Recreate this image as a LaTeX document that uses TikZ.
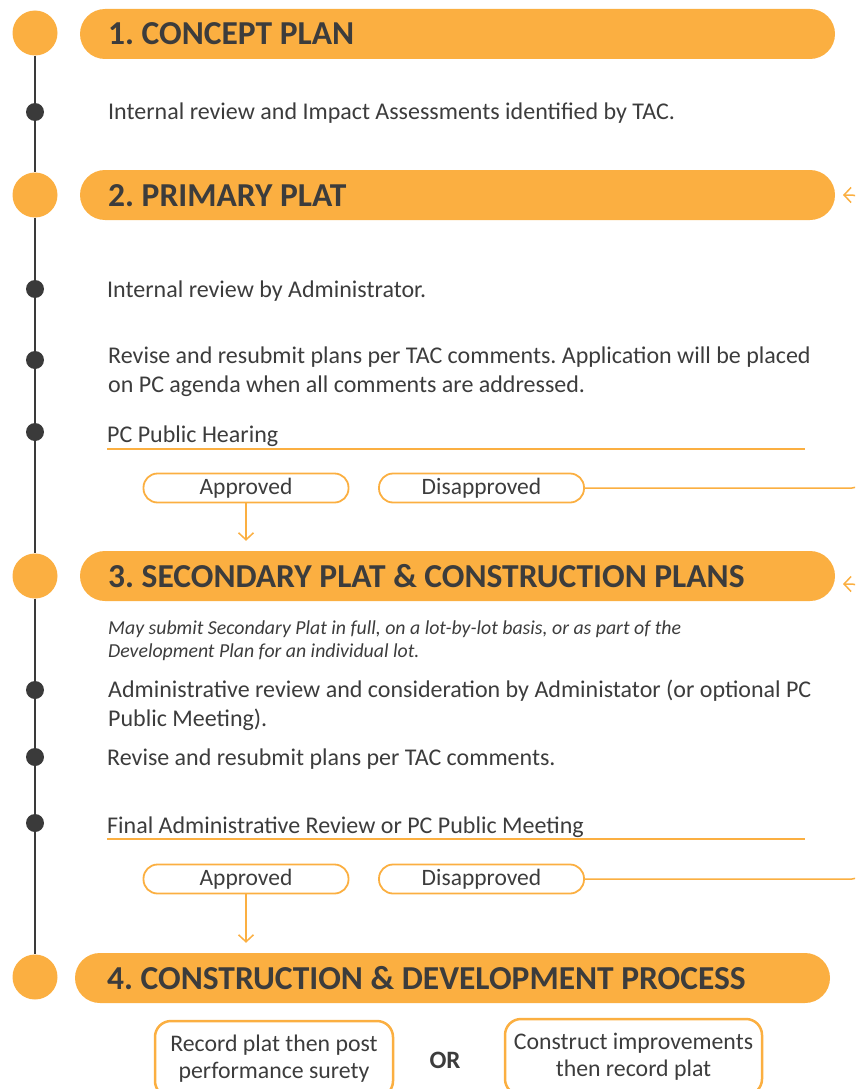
\documentclass[tikz,border=0pt]{standalone}
\usepackage{fontspec}
\setmainfont{Carlito}
\usetikzlibrary{arrows.meta,calc}
\definecolor{amber}{HTML}{FBAF41}
\definecolor{ink}{HTML}{3C3C3C}
\definecolor{rail}{HTML}{3A3A3A}
\frenchspacing
\begin{document}
\begin{tikzpicture}[x=1pt,y=-1pt,
  stage/.style={circle,fill=amber,minimum size=45pt,inner sep=0},
  dot/.style={circle,fill=rail,minimum size=18pt,inner sep=0},
  banner/.style={rectangle,fill=amber,rounded corners=25pt,minimum height=50pt,inner sep=0},
  title/.style={anchor=base west,inner sep=0,text=ink,font=\fontsize{33.5}{38}\selectfont\bfseries},
  body/.style={anchor=base west,inner sep=0,text=ink,font=\fontsize{24}{29}\selectfont,align=left},
  note/.style={anchor=base west,inner sep=0,text=ink,font=\fontsize{19.8}{23}\selectfont\itshape,align=left},
  verdict/.style={draw=amber,line width=1.8pt,rounded corners=14pt,minimum width=205pt,minimum height=29pt,inner sep=0,text=ink,font=\fontsize{23.5}{26}\selectfont},
  option/.style={draw=amber,line width=2.5pt,rounded corners=16pt,minimum height=76pt,inner sep=0,text=ink,font=\fontsize{23.8}{27}\selectfont,align=center},
  flow/.style={draw=amber,line width=1.5pt},
  tip/.style={-{Straight Barb[length=7pt,width=15pt]}},
]
\useasboundingbox (0,0) rectangle (855,1089);
\clip (0,0) rectangle (855,1089);

% stage markers and step dots on the rail
\node[stage] (c1) at (35,33) {};
\node[dot]   (d1) at (35,112) {};
\node[stage] (c2) at (35,195) {};
\node[dot]   (d2) at (35,289) {};
\node[dot]   (d3) at (35,360) {};
\node[dot]   (d4) at (35,432) {};
\node[stage] (c3) at (35,576) {};
\node[dot]   (d5) at (35,690) {};
\node[dot]   (d6) at (35,757) {};
\node[dot]   (d7) at (35,823) {};
\node[stage] (c4) at (35,977) {};
\draw[rail,line width=2pt] (c1) -- (d1) -- (c2) -- (d2) -- (d3) -- (d4) -- (c3)
  -- (d5) -- (d6) -- (d7) -- (c4);

% stage banners
\node[banner,minimum width=755pt] (h1) at (457.5,34) {};
\node[banner,minimum width=755pt] (h2) at (457.5,195) {};
\node[banner,minimum width=755pt] (h3) at (457.5,576) {};
\node[banner,minimum width=755pt] (h4) at (452.5,978) {};
\node[title] (t1) at (108,45) {1. CONCEPT PLAN};
\node[title] (t2) at (108,206) {2. PRIMARY PLAT};
\node[title] (t3) at (108,587) {3. SECONDARY PLAT \& CONSTRUCTION PLANS};
\node[title] (t4) at (107,989) {4. CONSTRUCTION \& DEVELOPMENT PROCESS};

% stage 1
\node[body] (s1) at (108,120) {Internal review and Impact Assessments identified by TAC.};

% stage 2
\node[body] (s2) at (107,297) {Internal review by Administrator.};
\node[body] (s3) at (108,392) {Revise and resubmit plans per TAC comments. Application will be placed\\on PC agenda when all comments are addressed.};
\node[body] (s4) at (107,442) {PC Public Hearing};
\coordinate (u1a) at (107,449);
\coordinate (u1b) at (805,449);
\draw[flow] (u1a) -- (u1b);
\node[verdict] (ap1) at (246,488) {Approved};
\node[verdict] (dp1) at (481.5,488) {Disapproved};
\coordinate (r2) at (843,195);
\draw[flow,tip,rounded corners=10pt] (dp1.east) -- (862,488) -- (862,195) -- (r2);
\draw[flow,tip,shorten >=10pt] (ap1.south) -- (ap1.south |- h3.north);

% stage 3
\node[note] (n1) at (108,657) {May submit Secondary Plat in full, on a lot-by-lot basis, or as part of the\\Development Plan for an individual lot.};
\node[body] (s5) at (108,726) {Administrative review and consideration by Administator (or optional PC\\Public Meeting).};
\node[body] (s6) at (107,765) {Revise and resubmit plans per TAC comments.};
\node[body] (s7) at (107,833) {Final Administrative Review or PC Public Meeting};
\coordinate (u2a) at (107,839);
\coordinate (u2b) at (805,839);
\draw[flow] (u2a) -- (u2b);
\node[verdict] (ap2) at (246,879) {Approved};
\node[verdict] (dp2) at (481.5,879) {Disapproved};
\coordinate (r3) at (843,584);
\draw[flow,tip,rounded corners=10pt] (dp2.east) -- (862,879) -- (862,584) -- (r3);
\draw[flow,tip,shorten >=10pt] (ap2.south) -- (ap2.south |- h4.north);

% stage 4 options
\node[option,minimum width=238pt] (o1) at (274,1059) {Record plat then post\\performance surety};
\node[text=ink,font=\fontsize{25}{28}\selectfont\bfseries] (or) at (445,1060) {OR};
\node[option,minimum width=257pt] (o2) at (633.5,1057) {Construct improvements\\then record plat};
\end{tikzpicture}
\end{document}
